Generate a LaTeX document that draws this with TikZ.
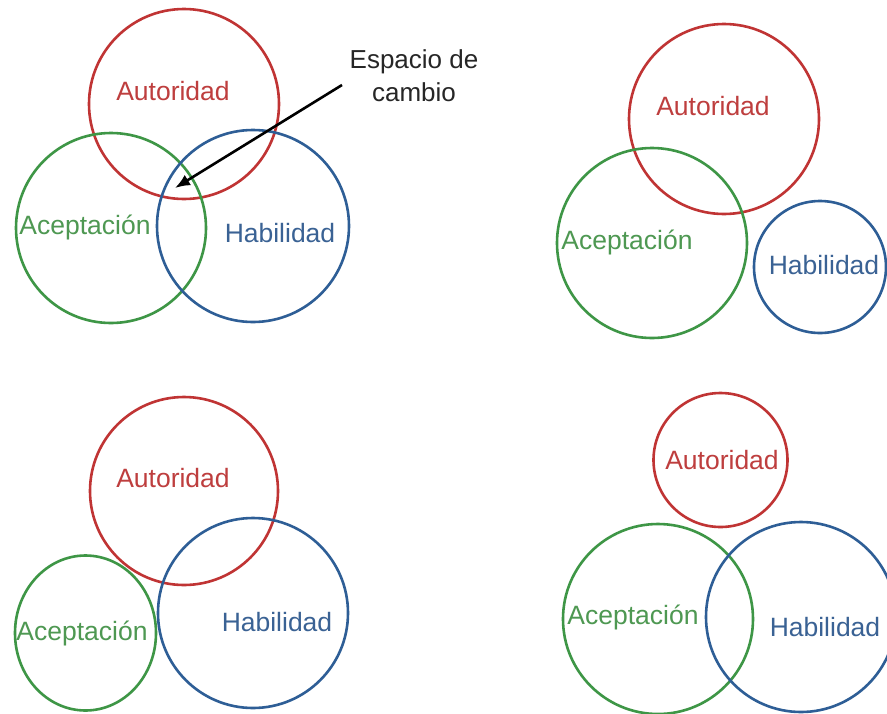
\documentclass[tikz,border=0pt]{standalone}
\usepackage{fontspec}
\setmainfont{Liberation Sans}
\usetikzlibrary{arrows.meta,shapes.geometric}
\definecolor{cred}{RGB}{192,52,52}
\definecolor{cgreen}{RGB}{62,150,70}
\definecolor{cblue}{RGB}{46,94,150}
\definecolor{tred}{RGB}{190,62,62}
\definecolor{tgreen}{RGB}{78,152,82}
\definecolor{tblue}{RGB}{58,98,148}
\tikzset{
  ring/.style={circle, draw=#1, line width=2.6pt, inner sep=0pt},
  oval/.style={ellipse, draw=#1, line width=2.6pt, inner sep=0pt},
  lbl/.style={text=#1, font=\fontsize{26.5}{28}\selectfont, inner sep=0pt},
}
\begin{document}
\begin{tikzpicture}[x=1pt,y=-1pt]
\useasboundingbox (0,0) rectangle (887,713);
\fill[white] (0,0) rectangle (887,713);
\clip (0,0) rectangle (887,713);
% ---------- top left
\node[ring=cred, minimum size=190pt] (tlA) at (184,104) {};
\node[ring=cgreen, minimum size=190pt] (tlC) at (111,228) {};
\node[ring=cblue, minimum size=192pt] (tlH) at (253,226) {};
\node[lbl=tred] (tlAt) at (173,91) {Autoridad};
\node[lbl=tgreen] (tlCt) at (85,227) {Aceptación};
\node[lbl=tblue] (tlHt) at (280,233) {Habilidad};
\node[font=\fontsize{26}{33}\selectfont, align=center, text=black!85, inner sep=0pt] (esp) at (414,76) {Espacio de\\cambio};
\coordinate (arS) at (342,85);
\coordinate (arE) at (175,188);
\draw[line width=2.6pt, -{Latex[length=15pt,width=12pt]}] (arS) -- (arE);
% ---------- top right
\node[ring=cred, minimum size=190pt] (trA) at (724,119) {};
\node[ring=cgreen, minimum size=190pt] (trC) at (652,243) {};
\node[ring=cblue, minimum size=132pt] (trH) at (820,267) {};
\node[lbl=tred] (trAt) at (713,106) {Autoridad};
\node[lbl=tgreen] (trCt) at (627,242) {Aceptación};
\node[lbl=tblue] (trHt) at (824,265) {Habilidad};
% ---------- bottom left
\node[ring=cred, minimum size=188pt] (blA) at (184,491) {};
\node[oval=cgreen, minimum width=141pt, minimum height=155pt] (blC) at (85.5,633) {};
\node[ring=cblue, minimum size=190pt] (blH) at (253,613) {};
\node[lbl=tred] (blAt) at (173,478) {Autoridad};
\node[lbl=tgreen] (blCt) at (82,633) {Aceptación};
\node[lbl=tblue] (blHt) at (277,622) {Habilidad};
% ---------- bottom right
\node[ring=cred, minimum size=134pt] (brA) at (720.5,460) {};
\node[ring=cgreen, minimum size=190pt] (brC) at (658,619) {};
\node[ring=cblue, minimum size=190pt] (brH) at (801,617) {};
\node[lbl=tred] (brAt) at (722,460) {Autoridad};
\node[lbl=tgreen] (brCt) at (633,617) {Aceptación};
\node[lbl=tblue] (brHt) at (825,627) {Habilidad};
\end{tikzpicture}
\end{document}
